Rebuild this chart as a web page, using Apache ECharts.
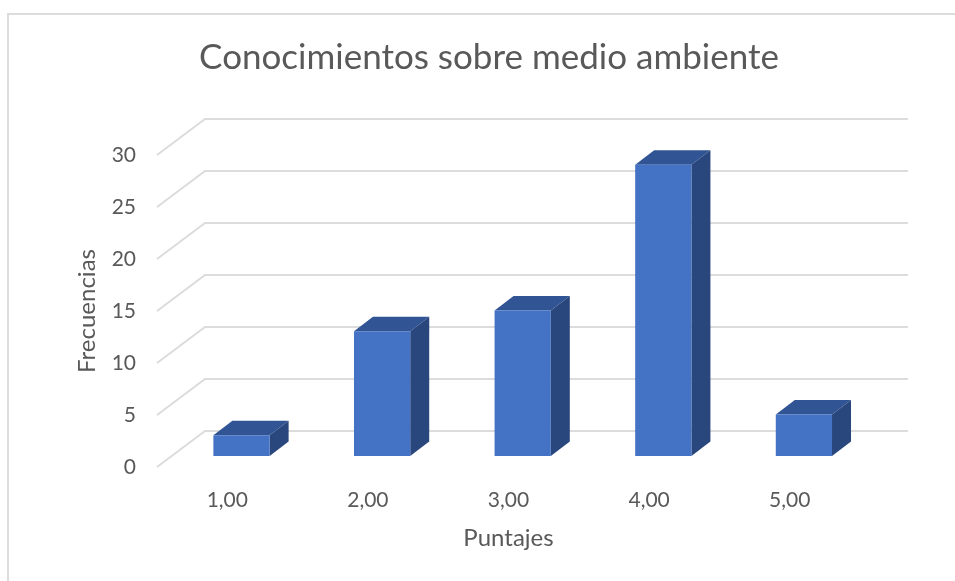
<!DOCTYPE html>
<html>
<head>
<meta charset="utf-8">
<title>Conocimientos sobre medio ambiente</title>
<style>html,body{margin:0;padding:0;background:#fff}#chart{width:955px;height:581px}</style>
<script src="https://cdn.jsdelivr.net/npm/echarts@6/dist/echarts.min.js"></script>
</head>
<body>
<div id="chart"></div>
<script>
const categories = ['1,00', '2,00', '3,00', '4,00', '5,00'];
const frecuencias = [2, 12, 14, 28, 4];
const yTicks = [0, 5, 10, 15, 20, 25, 30];

// Oblique projection of the box: wall depth and column depth, in pixels
const WALL_DX = 48, WALL_DY = 36;
const COL_DX = 19, COL_DY = 14.5;
const COL_SHIFT_X = 14.2, COL_SHIFT_Y = 11;
const COL_WIDTH_RATIO = 0.4;

const textColor = '#595959';
const gridColor = '#dcdcdc';
const fontFamily = 'Lato, "Open Sans", sans-serif';

function renderWallLine(params, api) {
  const band = api.size([1, 0])[0];
  const v = api.value(1);
  const start = api.coord([0, v]);
  const end = api.coord([categories.length - 1, v]);
  const x0 = start[0] - band / 2;
  const x1 = end[0] + band / 2;
  const y = start[1];
  return {
    type: 'polyline',
    shape: { points: [[x0, y], [x0 + WALL_DX, y - WALL_DY], [x1 + WALL_DX, y - WALL_DY]] },
    style: { fill: null, stroke: gridColor, lineWidth: 2 },
    silent: true
  };
}

function renderColumn(params, api) {
  const top = api.coord([api.value(0), api.value(1)]);
  const base = api.coord([api.value(0), 0]);
  const w = api.size([1, 0])[0] * COL_WIDTH_RATIO;
  const x0 = top[0] + COL_SHIFT_X - w / 2;
  const x1 = x0 + w;
  const yt = top[1] - COL_SHIFT_Y;
  const yb = base[1] - COL_SHIFT_Y;
  return {
    type: 'group',
    children: [
      { type: 'polygon',
        shape: { points: [[x0, yt], [x0 + COL_DX, yt - COL_DY], [x1 + COL_DX, yt - COL_DY], [x1, yt]] },
        style: { fill: '#315495' } },
      { type: 'polygon',
        shape: { points: [[x1, yt], [x1 + COL_DX, yt - COL_DY], [x1 + COL_DX, yb - COL_DY], [x1, yb]] },
        style: { fill: '#29477d' } },
      { type: 'rect',
        shape: { x: x0, y: yt, width: w, height: yb - yt },
        style: { fill: '#4472c4' } }
    ]
  };
}

const chart = echarts.init(document.getElementById('chart'), null, { renderer: 'canvas' });
chart.setOption({
  animation: false,
  backgroundColor: '#ffffff',
  title: {
    text: 'Conocimientos sobre medio ambiente',
    left: 484,
    top: 35,
    textAlign: 'center',
    textStyle: { color: textColor, fontFamily, fontSize: 35, fontWeight: 'normal' }
  },
  grid: { left: 157, top: 155, width: 703, height: 312 },
  xAxis: {
    type: 'category',
    data: categories,
    name: 'Puntajes',
    nameLocation: 'middle',
    nameGap: 59,
    nameTextStyle: { color: textColor, fontFamily, fontSize: 24 },
    axisLine: { show: false },
    axisTick: { show: false },
    splitLine: { show: false },
    axisLabel: { color: textColor, fontFamily, fontSize: 21, margin: 23 }
  },
  yAxis: {
    type: 'value',
    min: 0,
    max: 30,
    interval: 5,
    name: 'Frecuencias',
    nameLocation: 'middle',
    nameGap: 58,
    nameTextStyle: { color: textColor, fontFamily, fontSize: 24 },
    axisLine: { show: false },
    axisTick: { show: false },
    splitLine: { show: false },
    axisLabel: { color: textColor, fontFamily, fontSize: 21, margin: 21 }
  },
  series: [
    {
      type: 'custom',
      name: 'Cuadrícula',
      renderItem: renderWallLine,
      data: yTicks.map(v => [0, v]),
      encode: { x: 0, y: 1 },
      z: 1,
      silent: true
    },
    {
      type: 'custom',
      name: 'Frecuencias',
      renderItem: renderColumn,
      data: frecuencias.map((v, i) => [i, v]),
      encode: { x: 0, y: 1 },
      z: 2
    }
  ],
  graphic: [
    {
      type: 'polyline',
      shape: { points: [[8, 581], [8, 14], [955, 14]] },
      style: { fill: null, stroke: gridColor, lineWidth: 2 },
      silent: true
    }
  ]
});
</script>
</body>
</html>
